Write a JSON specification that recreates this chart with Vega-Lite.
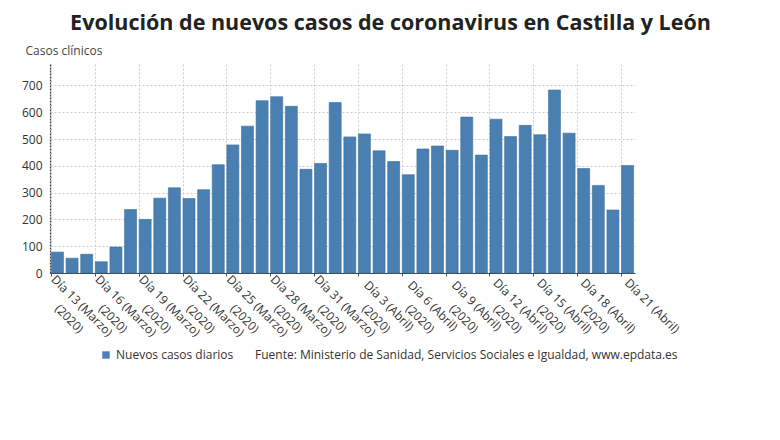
{
  "$schema": "https://vega.github.io/schema/vega-lite/v6.json",
  "width": 585,
  "height": 209,
  "autosize": {"type": "none"},
  "padding": {"left": 50, "top": 64, "right": 145, "bottom": 167},
  "background": "white",
  "config": {
    "font": "Open Sans",
    "view": {"stroke": null}
  },
  "title": {
    "text": "Evolución de nuevos casos de coronavirus en Castilla y León",
    "fontSize": 21.5,
    "fontWeight": "bold",
    "color": "#222222",
    "anchor": "middle",
    "dx": 48,
    "offset": 10,
    "font": "Open Sans"
  },
  "data": {
    "values": [
      {"dia": "Día 13 (Marzo)", "casos": 78},
      {"dia": "Día 14 (Marzo)", "casos": 55},
      {"dia": "Día 15 (Marzo)", "casos": 70},
      {"dia": "Día 16 (Marzo)", "casos": 42},
      {"dia": "Día 17 (Marzo)", "casos": 97},
      {"dia": "Día 18 (Marzo)", "casos": 237},
      {"dia": "Día 19 (Marzo)", "casos": 200},
      {"dia": "Día 20 (Marzo)", "casos": 279},
      {"dia": "Día 21 (Marzo)", "casos": 318},
      {"dia": "Día 22 (Marzo)", "casos": 278},
      {"dia": "Día 23 (Marzo)", "casos": 311},
      {"dia": "Día 24 (Marzo)", "casos": 404},
      {"dia": "Día 25 (Marzo)", "casos": 478},
      {"dia": "Día 26 (Marzo)", "casos": 548},
      {"dia": "Día 27 (Marzo)", "casos": 643},
      {"dia": "Día 28 (Marzo)", "casos": 658},
      {"dia": "Día 29 (Marzo)", "casos": 622},
      {"dia": "Día 30 (Marzo)", "casos": 387},
      {"dia": "Día 31 (Marzo)", "casos": 409},
      {"dia": "Día 1 (Abril)", "casos": 636},
      {"dia": "Día 2 (Abril)", "casos": 508},
      {"dia": "Día 3 (Abril)", "casos": 519},
      {"dia": "Día 4 (Abril)", "casos": 456},
      {"dia": "Día 5 (Abril)", "casos": 416},
      {"dia": "Día 6 (Abril)", "casos": 367},
      {"dia": "Día 7 (Abril)", "casos": 463},
      {"dia": "Día 8 (Abril)", "casos": 474},
      {"dia": "Día 9 (Abril)", "casos": 458},
      {"dia": "Día 10 (Abril)", "casos": 582},
      {"dia": "Día 11 (Abril)", "casos": 440},
      {"dia": "Día 12 (Abril)", "casos": 574},
      {"dia": "Día 13 (Abril)", "casos": 509},
      {"dia": "Día 14 (Abril)", "casos": 551},
      {"dia": "Día 15 (Abril)", "casos": 516},
      {"dia": "Día 16 (Abril)", "casos": 683},
      {"dia": "Día 17 (Abril)", "casos": 522},
      {"dia": "Día 18 (Abril)", "casos": 390},
      {"dia": "Día 19 (Abril)", "casos": 327},
      {"dia": "Día 20 (Abril)", "casos": 235},
      {"dia": "Día 21 (Abril)", "casos": 401}
    ]
  },
  "mark": {"type": "bar", "stroke": "#3d6e9c", "strokeWidth": 0.6},
  "encoding": {
    "x": {
      "field": "dia",
      "type": "ordinal",
      "sort": null,
      "scale": {"paddingInner": 0.18, "paddingOuter": 0.1},
      "axis": {
        "title": null,
        "values": ["Día 13 (Marzo)", "Día 16 (Marzo)", "Día 19 (Marzo)", "Día 22 (Marzo)", "Día 25 (Marzo)", "Día 28 (Marzo)", "Día 31 (Marzo)", "Día 3 (Abril)", "Día 6 (Abril)", "Día 9 (Abril)", "Día 12 (Abril)", "Día 15 (Abril)", "Día 18 (Abril)", "Día 21 (Abril)"],
        "labelExpr": "datum.label == 'Día 21 (Abril)' ? datum.label : [datum.label, '(2020)']",
        "labelAngle": 45,
        "labelAlign": "center",
        "labelBaseline": "top",
        "labelFontSize": 12,
        "labelColor": "#333333",
        "labelOffset": 28,
        "labelPadding": 26,
        "labelLineHeight": 18,
        "labelBound": false,
        "labelOverlap": false,
        "bandPosition": 0,
        "grid": true,
        "gridColor": "#cccccc",
        "gridDash": [2, 2],
        "gridWidth": 1,
        "ticks": true,
        "tickColor": "#555555",
        "tickSize": 3,
        "domainColor": "#444444",
        "domainWidth": 1
      }
    },
    "y": {
      "field": "casos",
      "type": "quantitative",
      "scale": {"domain": [0, 780], "nice": false},
      "axis": {
        "title": "Casos clínicos",
        "titleAngle": 0,
        "titleAlign": "left",
        "titleBaseline": "alphabetic",
        "titleX": -25,
        "titleY": -10,
        "titleFontSize": 12,
        "titleFontWeight": "normal",
        "titleColor": "#444444",
        "values": [0, 100, 200, 300, 400, 500, 600, 700],
        "labelFontSize": 12,
        "labelColor": "#333333",
        "labelPadding": 8,
        "ticks": false,
        "grid": true,
        "gridColor": "#cccccc",
        "gridDash": [2, 2],
        "domainColor": "#444444",
        "domainDash": [2, 1],
        "domainWidth": 1.2
      }
    },
    "color": {
      "datum": "Nuevos casos diarios",
      "scale": {"range": ["#4a7fb1"]},
      "legend": {
        "orient": "none",
        "legendX": 50,
        "legendY": 285,
        "direction": "horizontal",
        "title": "Fuente: Ministerio de Sanidad, Servicios Sociales e Igualdad, www.epdata.es",
        "titleOrient": "right",
        "titleFontWeight": "normal",
        "titleFontSize": 12,
        "titleColor": "#333333",
        "titlePadding": 22,
        "titleLimit": 600,
        "titleBaseline": "middle",
        "symbolType": "square",
        "symbolSize": 55,
        "symbolStrokeWidth": 0,
        "labelFontSize": 12,
        "labelColor": "#333333",
        "labelOffset": 4
      }
    }
  }
}
